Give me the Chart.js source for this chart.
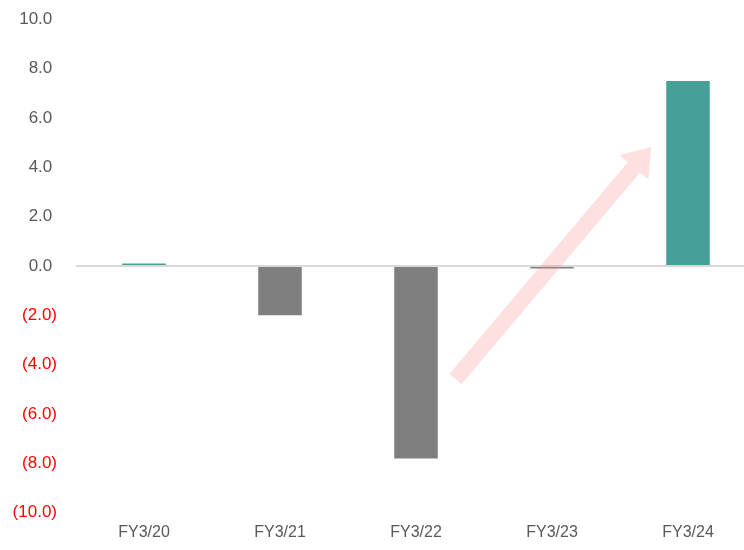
<!DOCTYPE html>
<html>
<head>
<meta charset="utf-8">
<script src="https://cdn.jsdelivr.net/npm/chart.js@4/dist/chart.umd.min.js"></script>
<style>
  html, body { margin: 0; padding: 0; background: #fff; overflow: hidden; }
  #wrap { width: 756px; height: 554px; margin-top: -10px; }
</style>
</head>
<body>
<div id="wrap"><canvas id="myChart" width="756" height="554"></canvas></div>
<script>
// fiscal years
var categories = ['FY3/20', 'FY3/21', 'FY3/22', 'FY3/23', 'FY3/24'];
// values
var values = [0.1, -2.0, -7.8, -0.1, 7.5];
var tickValues = [10, 8, 6, 4, 2, 0, -2, -4, -6, -8, -10];
// arrow annotation, in (category index, value) units
var arrowFrom = [2.29, -4.58];
var arrowTo = [3.73, 4.83];

var arrowPlugin = {
  id: 'arrow',
  afterDatasetsDraw: function (chart) {
    var x = chart.scales.x, y = chart.scales.y, ctx = chart.ctx;
    var x1 = x.getPixelForValue(arrowFrom[0]), y1 = y.getPixelForValue(arrowFrom[1]);
    var x2 = x.getPixelForValue(arrowTo[0]), y2 = y.getPixelForValue(arrowTo[1]);
    var ang = Math.atan2(y2 - y1, x2 - x1);
    var len = Math.hypot(x2 - x1, y2 - y1);
    var shaft = 8, head = 19, headLen = 27;
    ctx.save();
    ctx.translate(x1, y1);
    ctx.rotate(ang);
    ctx.beginPath();
    ctx.moveTo(0, -shaft);
    ctx.lineTo(len - headLen, -shaft);
    ctx.lineTo(len - headLen, -head);
    ctx.lineTo(len, 0);
    ctx.lineTo(len - headLen, head);
    ctx.lineTo(len - headLen, shaft);
    ctx.lineTo(0, shaft);
    ctx.closePath();
    ctx.fillStyle = 'rgba(252, 130, 130, 0.25)';
    ctx.fill();
    ctx.restore();
  }
};

var ctx = document.getElementById('myChart').getContext('2d');
var chart = new Chart(ctx, {
  type: 'bar',
  data: {
    labels: categories,
    datasets: [
      {
        data: values,
        backgroundColor: values.map(function (v) { return v >= 0 ? '#46A099' : '#7F7F7F'; }),
        barPercentage: 0.32,
        categoryPercentage: 1.0,
      },
    ],
  },
  options: {
    responsive: false,
    animation: false,
    layout: { padding: 0 },
    plugins: { legend: { display: false }, tooltip: { enabled: false } },
    scales: {
      x: {
        grid: { display: false },
        border: { display: false },
        ticks: {
          color: '#595959',
          font: { family: 'Liberation Sans, Arial', size: 16 },
          padding: 2,
        },
      },
      y: {
        min: -10,
        max: 10,
        afterBuildTicks: function (scale) {
          scale.ticks = tickValues.map(function (v) { return { value: v }; });
        },
        afterFit: function (scale) { scale.width = 76; },
        border: { display: false },
        grid: {
          drawTicks: false,
          lineWidth: 2,
          color: function (c) { return c.tick && c.tick.value === 0 ? '#D9D9D9' : 'rgba(0,0,0,0)'; },
        },
        ticks: {
          padding: 19,
          font: { family: 'Liberation Sans, Arial', size: 17 },
          color: function (c) { return c.tick.value < 0 ? '#FF0000' : '#595959'; },
          // excel style: positives keep a trailing space, negatives in brackets
          callback: function (v) {
            var s = Math.abs(v).toFixed(1);
            return v < 0 ? '(' + s + ')' : s + ' ';
          },
        },
      },
    },
  },
  plugins: [arrowPlugin],
});
</script>
</body>
</html>
